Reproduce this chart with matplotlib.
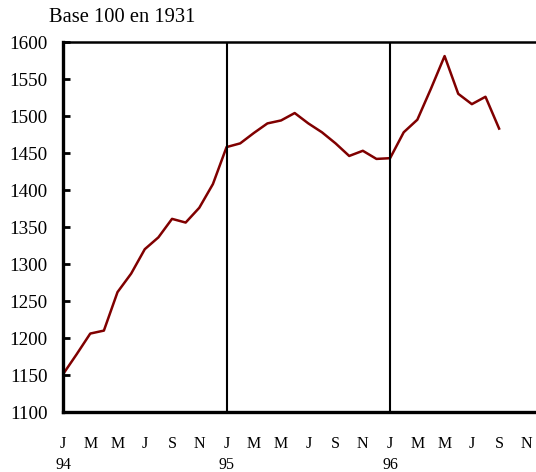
import matplotlib
matplotlib.use('Agg')
import matplotlib.pyplot as plt
from matplotlib.transforms import blended_transform_factory

# indice mensuel, janvier 94 -> septembre 96
mois = list(range(33))
valeurs = [1151, 1178, 1206, 1210, 1262, 1287, 1320, 1336, 1361, 1356, 1376, 1408,
           1458, 1463, 1477, 1490, 1494, 1504, 1490, 1478, 1463, 1446, 1453, 1442,
           1443, 1478, 1495, 1537, 1581, 1530, 1516, 1526, 1483]
lettres = ['J', 'M', 'M', 'J', 'S', 'N'] * 3
annees = ['94', '95', '96']
y_ticks = [1100, 1150, 1200, 1250, 1300, 1350, 1400, 1450, 1500, 1550, 1600]

plt.rcParams['font.family'] = ['Liberation Serif', 'DejaVu Serif']

fig = plt.figure(figsize=(5.36, 4.72), dpi=100)
ax = fig.add_axes([63/536, 60/472, 477/536, 370/472])

ax.plot(mois, valeurs, color='#800000', linewidth=1.8)
ax.axvline(12, color='black', linewidth=1.5)
ax.axvline(24, color='black', linewidth=1.5)

ax.set_xlim(0, 35)
ax.set_ylim(1100, 1600)

ax.set_yticks(y_ticks)
ax.set_yticklabels([str(v) for v in y_ticks], fontsize=13.8)
ax.tick_params(axis='y', direction='in', length=5, width=2, pad=11)

ax.set_xticks(range(0, 36, 2))
ax.set_xticklabels(lettres, fontsize=11.5)
ax.tick_params(axis='x', length=0, pad=17)

trans = blended_transform_factory(ax.transData, ax.transAxes)
for i, a in enumerate(annees):
    ax.text(i * 12, -0.143, a, transform=trans, ha='center', va='center', fontsize=11.5)

ax.spines['left'].set_linewidth(2.4)
ax.spines['bottom'].set_linewidth(2.4)
ax.spines['top'].set_linewidth(1.8)
ax.spines['right'].set_visible(False)

fig.text(49/536, 1 - 18/472, 'Base 100 en 1931', fontsize=14.8, ha='left', va='center')

fig.savefig('out.png', dpi=100)
